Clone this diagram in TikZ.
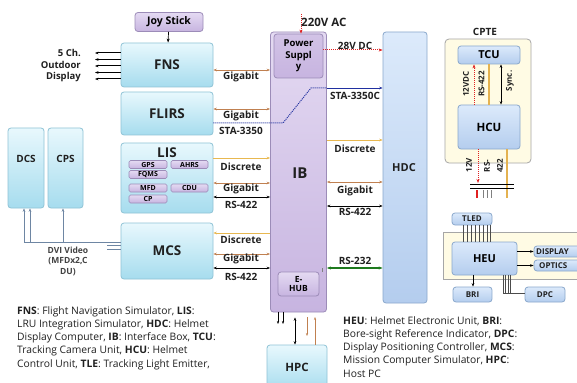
\documentclass[tikz,border=0pt]{standalone}
\usepackage{fontspec}
\setmainfont{Open Sans}
\usetikzlibrary{arrows.meta}
\definecolor{cyanB}{HTML}{8FC3D6}
\definecolor{cyanT}{HTML}{E8F8FD}
\definecolor{cyanD}{HTML}{A6DCEE}
\definecolor{lavB}{HTML}{9C8CB8}
\definecolor{lavT}{HTML}{E4DAF2}
\definecolor{lavD}{HTML}{C7B4E0}
\definecolor{blueB}{HTML}{8AA8CC}
\definecolor{blueT}{HTML}{DCEAFB}
\definecolor{blueD}{HTML}{B4CDEE}
\definecolor{ylw}{HTML}{FFFBE4}
\definecolor{gigac}{HTML}{C08050}
\definecolor{discc}{HTML}{E8B850}
\definecolor{stac}{HTML}{2030A0}
\definecolor{pwrc}{HTML}{E02020}
\definecolor{rsg}{HTML}{1E7A1E}
\definecolor{txt}{HTML}{202020}
\tikzset{
  cyanbox/.style={draw=cyanB, rounded corners=3pt, top color=cyanT, bottom color=cyanD, line width=0.8pt},
  lavbox/.style={draw=lavB, rounded corners=3pt, top color=lavT, bottom color=lavD, line width=0.8pt},
  bluebox/.style={draw=blueB, rounded corners=3pt, top color=blueT, bottom color=blueD, line width=0.8pt},
  subbox/.style={draw=lavB, rounded corners=1.5pt, top color=lavT, bottom color=lavD, line width=0.6pt, inner sep=0pt, font=\fontsize{7}{8}\selectfont\bfseries},
  big/.style={font=\fontsize{13.5}{15}\selectfont\bfseries, text=txt},
  lbl/.style={font=\fontsize{10}{11}\selectfont\bfseries, text=txt, inner sep=0pt},
  small/.style={font=\fontsize{8}{9}\selectfont\bfseries, text=txt, inner sep=0pt},
  giga/.style={gigac, line width=0.7pt, {Stealth[length=3.5pt]}-{Stealth[length=3.5pt]}},
  disc/.style={discc, line width=0.7pt, -{Stealth[length=3.5pt]}},
  rs/.style={black, line width=0.7pt, {Stealth[length=3.5pt]}-{Stealth[length=3.5pt]}},
  pwr/.style={pwrc, line width=1pt, densely dotted, -{Stealth[length=4pt]}},
  para/.style={font=\fontsize{10.3}{13.3}\selectfont, text=txt, align=left, inner sep=0pt, anchor=north west},
}
\begin{document}
\begin{tikzpicture}[x=1pt,y=-1pt]
\clip (0,0) rectangle (577,382);
\fill[white] (0,0) rectangle (577,382);

% ---- left column boxes
\node[lavbox, minimum width=68pt, minimum height=19pt, font=\fontsize{10.5}{12}\selectfont\bfseries] (joy) at (169,22) {Joy Stick};
\node[cyanbox, minimum width=92pt, minimum height=44pt, big] (fns) at (167,65) {FNS};
\node[cyanbox, minimum width=92pt, minimum height=43pt, big] (flirs) at (167,113.5) {FLIRS};
\node[cyanbox, minimum width=92pt, minimum height=70pt] (lis) at (167,178) {};
\node[big] (lislbl) at (167,153) {LIS};
\node[subbox, minimum width=38pt, minimum height=8pt] (gps) at (148,164.5) {GPS};
\node[subbox, minimum width=37pt, minimum height=8pt] (ahrs) at (189.5,164.5) {AHRS};
\node[subbox, minimum width=38pt, minimum height=8pt] (fqms) at (148,174.5) {FQMS};
\node[subbox, minimum width=38pt, minimum height=8pt] (mfd) at (148,188) {MFD};
\node[subbox, minimum width=37pt, minimum height=8pt] (cdu) at (189.5,188) {CDU};
\node[subbox, minimum width=38pt, minimum height=8pt] (cp) at (148,199) {CP};
\node[cyanbox, minimum width=92pt, minimum height=56pt, big] (mcs) at (167,251) {MCS};

\node[cyanbox, minimum width=36pt, minimum height=80pt] (dcs) at (26,168) {};
\node[cyanbox, minimum width=35pt, minimum height=80pt] (cps) at (65.5,168) {};
\node[lbl] (dcslbl) at (26,159) {DCS};
\node[lbl] (cpslbl) at (65.5,159) {CPS};

% ---- IB, HDC, HPC
\node[lavbox, minimum width=56pt, minimum height=280pt] (ib) at (298.5,172) {};
\node[big, font=\fontsize{15}{16}\selectfont\bfseries] (iblbl) at (300,173) {IB};
\node[lavbox, top color=lavD!80, bottom color=lavD, minimum width=49pt, minimum height=44pt, align=center, font=\fontsize{9.5}{11.5}\selectfont\bfseries, inner sep=0pt] (ps) at (298.5,56) {Power\\Suppl\\y};
\node[lavbox, minimum width=41pt, minimum height=24pt, align=center, font=\fontsize{8.5}{9.5}\selectfont\bfseries] (ehub) at (298.5,284) {E-\\HUB};
\node[bluebox, minimum width=44pt, minimum height=271pt] (hdc) at (405,167.5) {};
\node[lbl, font=\fontsize{11}{12}\selectfont\bfseries] (hdclbl) at (404,168) {HDC};
\node[cyanbox, minimum width=60pt, minimum height=46pt] (hpc) at (297,368) {};
\node[lbl, font=\fontsize{11.5}{12}\selectfont\bfseries] (hpclbl) at (297,367) {HPC};

% ---- CPTE
\node[draw=gray!70, fill=ylw, rounded corners=4pt, line width=0.8pt, minimum width=86pt, minimum height=124pt] (cpte) at (488,101) {};
\node[lbl] (cptelbl) at (485,32) {CPTE};
\node[bluebox, minimum width=62pt, minimum height=18pt, font=\fontsize{11}{12}\selectfont\bfseries] (tcu) at (489,55) {TCU};
\node[bluebox, minimum width=62pt, minimum height=44pt, font=\fontsize{11.5}{12}\selectfont\bfseries] (hcu) at (489,127) {HCU};

% ---- HEU group
\node[draw=gray!70, fill=ylw, line width=0.8pt, minimum width=150pt, minimum height=47pt] (heuout) at (518,255.5) {};
\node[bluebox, minimum width=40pt, minimum height=12pt, small] (tled) at (472,219) {TLED};
\node[bluebox, minimum width=65pt, minimum height=33pt, font=\fontsize{11}{12}\selectfont\bfseries] (heu) at (484.5,258.5) {HEU};
\node[bluebox, minimum width=60pt, minimum height=11pt] (disp) at (564,251.5) {};
\node[small, anchor=west] (displbl) at (536,251.5) {DISPLAY};
\node[bluebox, minimum width=60pt, minimum height=11pt] (opt) at (564,265.5) {};
\node[small, anchor=west] (optlbl) at (539,265.5) {OPTICS};
\node[bluebox, minimum width=39pt, minimum height=15pt, small] (bri) at (472.5,294.5) {BRI};
\node[bluebox, minimum width=40pt, minimum height=15pt, small] (dpc) at (545,294.5) {DPC};

% ---- connectors: left
\draw[-{Stealth[length=4pt]}, line width=0.7pt] (joy) -- (fns);
\foreach \yy in {53,59.5,66,72.5,79}
  \draw[-{Stealth[length=3.5pt]}, line width=1pt] (fns.west |- 0,\yy) -- (95,\yy);
\node[font=\fontsize{9.5}{11.5}\selectfont\bfseries, align=right, text=txt, anchor=east, inner sep=0pt] (outd) at (81,66) {5 Ch.\\Outdoor\\Display};

\draw[giga] (fns.east |- 0,70) -- (ib.west |- 0,70);
\node[lbl] (g1) at (241,77) {Gigabit};
\draw[giga] (flirs.east |- 0,109) -- (ib.west |- 0,109);
\node[lbl] (g2) at (241,116) {Gigabit};
\node[lbl] (sta) at (241,131) {STA-3350};
\draw[stac, densely dotted, line width=1pt] (flirs.east |- 0,123) -- (283,123) -- (311,88) -- (ib.east |- 0,88);
\draw[stac, line width=0.7pt, -{Stealth[length=3.5pt]}] (ib.east |- 0,88) -- (hdc.west |- 0,88);
\node[lbl] (stac) at (355,96) {STA-3350C};

\draw[disc] (lis.east |- 0,158) -- (ib.west |- 0,158);
\node[lbl] (d1) at (241,167) {Discrete};
\draw[giga] (lis.east |- 0,183) -- (ib.west |- 0,183);
\node[lbl] (g3) at (241,189) {Gigabit};
\draw[rs] (lis.east |- 0,197) -- (ib.west |- 0,197);
\node[lbl] (r1) at (241,205) {RS-422};

\draw[disc] (ib.west |- 0,233) -- (mcs.east |- 0,233);
\node[lbl] (d2) at (241,240) {Discrete};
\draw[giga] (mcs.east |- 0,254) -- (ib.west |- 0,254);
\node[lbl] (g4) at (241,259) {Gigabit};
\draw[rs] (mcs.east |- 0,268) -- (ib.west |- 0,268);
\node[lbl] (r2) at (241,277) {RS-422};

% MCS -> DCS/CPS video
\draw[line width=0.7pt, draw=blueB!80!black] (mcs.west |- 0,242) -- (24,242);
\draw[line width=0.7pt, draw=blueB!80!black] (mcs.west |- 0,245.5) -- (107,245.5);
\draw[line width=0.7pt, draw=blueB!80!black] (mcs.west |- 0,249) -- (107,249);
\draw[line width=0.7pt, draw=blueB!80!black, -{Stealth[length=3.5pt]}] (24,242) -- (dcs.south -| 24,0);
\draw[line width=0.7pt, draw=blueB!80!black, -{Stealth[length=3.5pt]}] (30,242) -- (dcs.south -| 30,0);
\draw[line width=0.7pt, draw=blueB!80!black, -{Stealth[length=3.5pt]}] (63,242) -- (cps.south -| 63,0);
\node[font=\fontsize{8.5}{10.5}\selectfont\bfseries, text=txt!85, align=center, inner sep=0pt] (dvi) at (68,261) {DVI Video\\(MFDx2,C\\DU)};

% ---- power
\coordinate (acin) at (301,14);
\draw[pwr] (acin) -- (ps.north -| acin);
\node[font=\fontsize{11.5}{13}\selectfont\bfseries, text=txt, anchor=west, inner sep=0pt] (ac) at (301,22) {220V AC};
\draw[pwr] (ps.east |- 0,50) -- (hdc.west |- 0,50);
\node[lbl] (dc) at (355,46) {28V DC};

% ---- IB -- HDC
\draw[disc] (ib.east |- 0,140) -- (hdc.west |- 0,140);
\node[lbl] (d3) at (355,149) {Discrete};
\draw[giga] (ib.east |- 0,182) -- (hdc.west |- 0,182);
\node[lbl] (g5) at (355,191) {Gigabit};
\draw[rs] (ib.east |- 0,206) -- (hdc.west |- 0,206);
\node[lbl] (r3) at (355,212) {RS-422};
\draw[rsg, line width=1.3pt, {Stealth[length=4pt]}-{Stealth[length=4pt]}] (ib.east |- 0,268) -- (hdc.west |- 0,268);
\node[lbl] (r4) at (355,261) {RS-232};
\draw[gray, line width=0.6pt] (ehub.north east) ++(3,0) coordinate (eh1) -- (eh1 |- 0,268);

% ---- IB -- HPC
\draw[-{Stealth[length=3pt]}, line width=0.7pt] (ib.south -| 278,0) -- (278,324);
\draw[-{Stealth[length=3pt]}, line width=0.7pt] (ib.south -| 283,0) -- (283,324);
\draw[rs] (ib.south -| 295,0) ++(0,5) coordinate (hp1) -- (hpc.north -| hp1);
\draw[gigac, line width=0.7pt, -{Stealth[length=3pt]}] (ib.south -| 307,0) ++(0,5) coordinate (hp2) -- (307,336);
\draw[gigac, line width=0.7pt, -{Stealth[length=3pt]}] (hpc.north -| 315,0) -- (315,317);

% ---- CPTE internals
\draw[pwr, line width=1pt] (hcu.north -| 474,0) -- (tcu.south -| 474,0);
\draw[discc!90!gigac, line width=1.1pt] (hcu.north -| 489,0) -- (tcu.south -| 489,0);
\draw[rs] (hcu.north -| 501,0) -- (tcu.south -| 501,0);
\node[small, rotate=90] (v12) at (466,84) {12VDC};
\node[small, rotate=90] (rs1) at (481.5,84) {RS-422};
\node[small, rotate=90] (sync) at (510,81) {Sync.};
\draw[pwr, line width=1pt] (hcu.south -| 478,0) -- (478,183);
\draw[discc!90!gigac, line width=1.1pt] (hcu.south -| 507,0) -- (507,198);
\node[small, rotate=90] (v12b) at (469,165) {12V};
\node[small, rotate=90, align=center, font=\fontsize{8}{13}\selectfont\bfseries] (rs2) at (493.5,166) {RS-\\422};
\draw[black, line width=1.4pt] (470,184.5) -- (514,184.5);
\draw[black, line width=1.4pt] (470,188.5) -- (514,188.5);
\draw[pwrc, line width=1.2pt] (477,190) -- (477,198);
\foreach \xx in {483,487,491} \draw[gray, line width=0.7pt] (\xx,190) -- (\xx,198);

% ---- HEU connections
\foreach \xx in {463,467,471,475,479,483,487,490}
  \draw[gray!60!black, line width=0.6pt] (tled.south -| \xx,0) -- (heu.north -| \xx,0);
\draw[-{Stealth[length=3.5pt]}, line width=0.7pt] (heu.east |- disp) -- (disp.west);
\draw[-{Stealth[length=3.5pt]}, line width=0.7pt] (heu.east |- opt) -- (opt.west);
\draw[-{Stealth[length=3.5pt]}, line width=0.7pt] (heu.south -| 473,0) -- (bri.north -| 473,0);
\foreach \xx in {503,505.5,508,510.5}
  \draw[gray!60!black, line width=0.6pt] (heu.south -| \xx,0) -- (\xx,293);
\draw[gray!60!black, line width=0.6pt] (503,293) -- (dpc.west |- 0,293);

% ---- legends
\node[para] (leg1) at (17,306) {\textbf{FNS}: Flight Navigation Simulator, \textbf{LIS}:\\LRU Integration Simulator, \textbf{HDC}: Helmet\\Display Computer, \textbf{IB}: Interface Box, \textbf{TCU}:\\Tracking Camera Unit, \textbf{HCU}: Helmet\\Control Unit, \textbf{TLE}: Tracking Light Emitter,};
\node[para] (leg2) at (343,316) {\textbf{HEU}: Helmet Electronic Unit, \textbf{BRI}:\\Bore-sight Reference Indicator, \textbf{DPC}:\\Display Positioning Controller, \textbf{MCS}:\\Mission Computer Simulator, \textbf{HPC}:\\Host PC};
\end{tikzpicture}
\end{document}
